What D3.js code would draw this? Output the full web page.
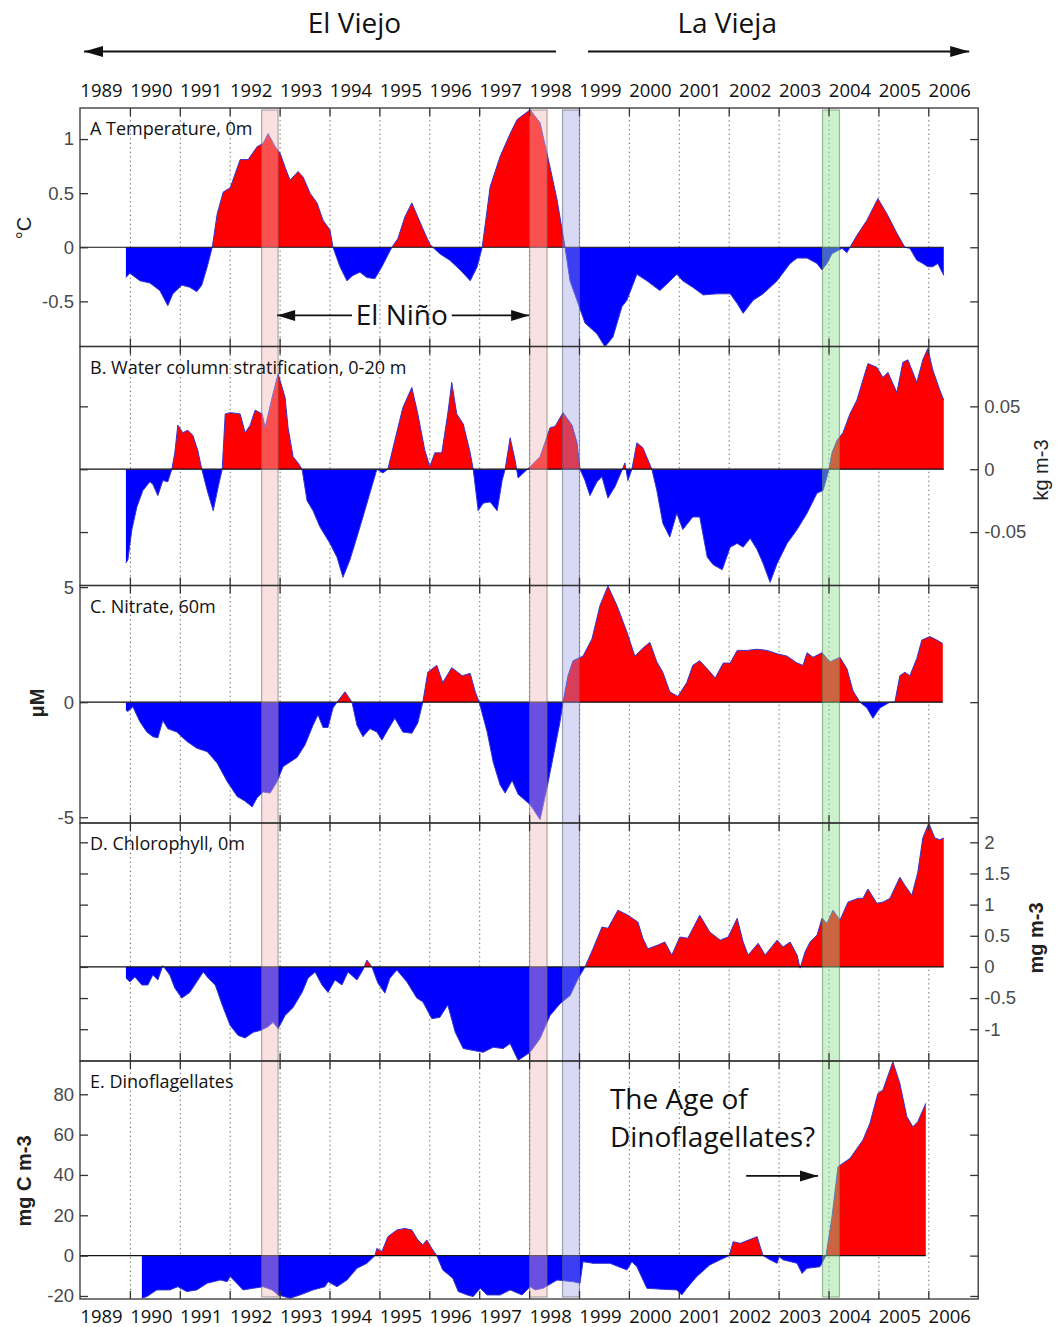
<!DOCTYPE html>
<html><head><meta charset="utf-8">
<script src="https://cdn.jsdelivr.net/npm/d3@7"></script>
<style>
body{margin:0;background:#fff;}
svg{display:block;}
</style></head><body>
<svg id="c" width="1060" height="1327"></svg>
<script>
// ---------------- DATA ----------------
const gridYears = d3.range(1990, 2007);
const labelYears = d3.range(1989, 2007);
const panelTitles = ["A Temperature, 0m", "B. Water column stratification, 0-20 m", "C. Nitrate, 60m", "D. Chlorophyll, 0m", "E. Dinoflagellates"];
const unitLabels = ["°C", "kg m-3", "μM", "mg m-3", "mg C m-3"];
const tickA = [-0.5, 0, 0.5, 1];
const tickB = [-0.05, 0, 0.05];
const tickC = [-5, 0, 5];
const tickD = [-1, -0.5, 0, 0.5, 1, 1.5, 2];
const tickE = [-20, 0, 20, 40, 60, 80];

const tempData = [[1989.92,-0.28],[1990.00,-0.24],[1990.20,-0.31],[1990.40,-0.33],[1990.60,-0.40],[1990.76,-0.54],[1990.86,-0.43],[1991.04,-0.35],[1991.20,-0.37],[1991.34,-0.41],[1991.44,-0.35],[1991.55,-0.18],[1991.65,0],[1991.75,0.31],[1991.87,0.51],[1992.01,0.55],[1992.21,0.81],[1992.37,0.81],[1992.55,0.93],[1992.67,0.96],[1992.77,1.05],[1992.91,0.93],[1993.01,0.87],[1993.11,0.74],[1993.21,0.62],[1993.37,0.70],[1993.47,0.65],[1993.61,0.50],[1993.75,0.41],[1993.87,0.25],[1994.01,0.16],[1994.07,0],[1994.21,-0.18],[1994.35,-0.31],[1994.47,-0.26],[1994.61,-0.23],[1994.75,-0.28],[1994.91,-0.29],[1995.05,-0.18],[1995.15,-0.09],[1995.25,0],[1995.37,0.08],[1995.51,0.28],[1995.65,0.41],[1995.77,0.28],[1995.91,0.13],[1996.01,0.03],[1996.07,0],[1996.21,-0.06],[1996.41,-0.12],[1996.62,-0.21],[1996.82,-0.31],[1996.96,-0.18],[1997.06,0],[1997.22,0.56],[1997.42,0.84],[1997.62,1.05],[1997.76,1.18],[1998.02,1.27],[1998.22,1.15],[1998.42,0.74],[1998.56,0.44],[1998.72,0],[1998.82,-0.31],[1998.96,-0.49],[1999.12,-0.70],[1999.36,-0.80],[1999.52,-0.92],[1999.68,-0.83],[1999.86,-0.55],[1999.96,-0.49],[2000.16,-0.25],[2000.36,-0.31],[2000.62,-0.40],[2000.76,-0.34],[2000.96,-0.25],[2001.08,-0.31],[2001.28,-0.37],[2001.49,-0.44],[2001.77,-0.43],[2002.03,-0.43],[2002.17,-0.52],[2002.29,-0.61],[2002.49,-0.49],[2002.69,-0.43],[2002.97,-0.31],[2003.23,-0.15],[2003.37,-0.10],[2003.57,-0.10],[2003.77,-0.15],[2003.87,-0.21],[2003.97,-0.15],[2004.07,-0.06],[2004.27,-0.01],[2004.37,-0.05],[2004.43,0],[2004.57,0.11],[2004.77,0.25],[2004.99,0.45],[2005.17,0.31],[2005.37,0.13],[2005.53,0],[2005.63,-0.01],[2005.77,-0.12],[2005.89,-0.15],[2005.99,-0.18],[2006.09,-0.18],[2006.19,-0.15],[2006.31,-0.26]];

const stratData = [[1989.92,-0.0746],[1989.96,-0.072],[1990.04,-0.048],[1990.14,-0.030],[1990.26,-0.017],[1990.40,-0.010],[1990.46,-0.012],[1990.56,-0.021],[1990.66,-0.009],[1990.76,-0.010],[1990.84,0],[1990.90,0.013],[1990.96,0.035],[1991.06,0.029],[1991.16,0.031],[1991.26,0.027],[1991.36,0.015],[1991.44,0],[1991.55,-0.017],[1991.67,-0.033],[1991.77,-0.014],[1991.85,0],[1991.91,0.044],[1992.01,0.045],[1992.21,0.044],[1992.31,0.029],[1992.41,0.035],[1992.51,0.047],[1992.65,0.044],[1992.71,0.033],[1992.85,0.057],[1992.97,0.076],[1993.11,0.057],[1993.17,0.033],[1993.27,0.010],[1993.37,0.005],[1993.45,0],[1993.55,-0.025],[1993.67,-0.033],[1993.81,-0.046],[1994.01,-0.059],[1994.15,-0.070],[1994.27,-0.086],[1994.41,-0.072],[1994.55,-0.054],[1994.67,-0.038],[1994.81,-0.019],[1994.95,0],[1995.07,-0.003],[1995.17,0],[1995.31,0.023],[1995.47,0.049],[1995.65,0.065],[1995.77,0.044],[1995.91,0.015],[1996.01,0.002],[1996.11,0.013],[1996.25,0.013],[1996.37,0.044],[1996.45,0.069],[1996.55,0.044],[1996.68,0.036],[1996.82,0.013],[1996.88,0],[1996.98,-0.033],[1997.08,-0.027],[1997.22,-0.026],[1997.36,-0.033],[1997.46,-0.009],[1997.52,0],[1997.62,0.025],[1997.72,0.007],[1997.78,-0.007],[1998.02,0.002],[1998.22,0.010],[1998.42,0.033],[1998.52,0.034],[1998.68,0.045],[1998.86,0.035],[1998.96,0.021],[1999.02,0],[1999.12,-0.009],[1999.22,-0.021],[1999.36,-0.010],[1999.46,-0.006],[1999.58,-0.023],[1999.72,-0.014],[1999.86,-0.001],[1999.92,0.005],[1999.98,-0.009],[2000.06,0],[2000.16,0.021],[2000.28,0.017],[2000.46,0],[2000.56,-0.017],[2000.68,-0.043],[2000.82,-0.054],[2000.96,-0.035],[2001.08,-0.048],[2001.28,-0.038],[2001.42,-0.038],[2001.57,-0.070],[2001.69,-0.076],[2001.87,-0.080],[2002.03,-0.062],[2002.17,-0.059],[2002.29,-0.062],[2002.43,-0.055],[2002.57,-0.064],[2002.69,-0.075],[2002.83,-0.090],[2002.97,-0.075],[2003.17,-0.059],[2003.37,-0.048],[2003.57,-0.035],[2003.77,-0.019],[2003.89,-0.017],[2003.97,-0.006],[2004.01,0],[2004.07,0.013],[2004.17,0.023],[2004.29,0.029],[2004.43,0.044],[2004.57,0.055],[2004.69,0.071],[2004.79,0.084],[2004.97,0.081],[2005.09,0.073],[2005.19,0.077],[2005.37,0.061],[2005.49,0.085],[2005.59,0.087],[2005.77,0.069],[2005.89,0.087],[2005.99,0.096],[2006.09,0.079],[2006.23,0.063],[2006.31,0.055]];

const nitrateData = [[1989.92,-0.35],[1989.96,-0.4],[1990.06,-0.2],[1990.20,-0.85],[1990.34,-1.3],[1990.46,-1.5],[1990.56,-1.55],[1990.66,-0.8],[1990.76,-1.15],[1990.94,-1.3],[1991.14,-1.7],[1991.34,-2.0],[1991.55,-2.15],[1991.75,-2.65],[1991.95,-3.45],[1992.15,-4.1],[1992.31,-4.3],[1992.45,-4.55],[1992.55,-4.15],[1992.67,-3.9],[1992.81,-3.95],[1992.95,-3.45],[1993.07,-2.8],[1993.21,-2.6],[1993.35,-2.4],[1993.51,-1.85],[1993.67,-1.0],[1993.77,-0.55],[1993.87,-1.1],[1993.97,-1.1],[1994.07,-0.25],[1994.15,0],[1994.31,0.45],[1994.45,0],[1994.55,-1.0],[1994.67,-1.5],[1994.81,-1.15],[1994.95,-1.3],[1995.05,-1.65],[1995.17,-1.2],[1995.31,-0.7],[1995.47,-1.3],[1995.65,-1.35],[1995.77,-0.9],[1995.87,0],[1995.97,1.3],[1996.15,1.6],[1996.27,0.85],[1996.45,1.5],[1996.66,1.15],[1996.82,1.25],[1996.92,0.45],[1997.00,0],[1997.16,-1.3],[1997.28,-2.6],[1997.42,-3.6],[1997.52,-3.95],[1997.66,-3.4],[1997.78,-4.0],[1998.02,-4.45],[1998.22,-5.1],[1998.36,-3.7],[1998.48,-2.4],[1998.62,-0.85],[1998.68,0],[1998.78,1.15],[1998.88,1.8],[1999.08,2.0],[1999.26,2.75],[1999.42,4.2],[1999.58,5.05],[1999.76,4.2],[1999.96,3.05],[2000.12,2.0],[2000.28,2.35],[2000.42,2.6],[2000.56,1.75],[2000.68,1.3],[2000.82,0.45],[2000.98,0.25],[2001.16,0.85],[2001.28,1.6],[2001.42,1.8],[2001.57,1.45],[2001.73,1.05],[2001.89,1.7],[2002.03,1.7],[2002.17,2.25],[2002.37,2.25],[2002.57,2.3],[2002.77,2.25],[2002.97,2.1],[2003.17,2.0],[2003.37,1.7],[2003.49,1.6],[2003.57,2.15],[2003.69,1.95],[2003.87,2.15],[2004.03,1.75],[2004.23,1.95],[2004.37,1.45],[2004.49,0.5],[2004.63,0],[2004.77,-0.25],[2004.89,-0.7],[2005.03,-0.25],[2005.23,0],[2005.33,0],[2005.43,1.15],[2005.53,1.3],[2005.63,1.15],[2005.77,1.9],[2005.87,2.7],[2006.03,2.85],[2006.17,2.7],[2006.29,2.55]];

const chlData = [[1989.92,-0.18],[1990.00,-0.24],[1990.10,-0.16],[1990.24,-0.29],[1990.36,-0.29],[1990.46,-0.13],[1990.56,-0.21],[1990.66,0.02],[1990.80,-0.13],[1990.90,-0.34],[1991.04,-0.5],[1991.20,-0.41],[1991.34,-0.24],[1991.47,-0.08],[1991.57,-0.18],[1991.71,-0.29],[1991.85,-0.61],[1992.01,-0.94],[1992.17,-1.1],[1992.31,-1.14],[1992.47,-1.05],[1992.61,-1.02],[1992.75,-0.97],[1992.87,-0.89],[1992.97,-0.99],[1993.11,-0.78],[1993.27,-0.65],[1993.45,-0.41],[1993.57,-0.18],[1993.71,-0.08],[1993.85,-0.29],[1993.97,-0.41],[1994.11,-0.21],[1994.25,-0.29],[1994.37,-0.08],[1994.55,-0.21],[1994.67,-0.05],[1994.75,0.11],[1994.85,0],[1994.97,-0.26],[1995.11,-0.42],[1995.21,-0.18],[1995.35,-0.05],[1995.55,-0.24],[1995.75,-0.5],[1995.87,-0.56],[1996.05,-0.83],[1996.21,-0.81],[1996.37,-0.61],[1996.52,-1.05],[1996.68,-1.31],[1996.88,-1.34],[1997.08,-1.37],[1997.28,-1.29],[1997.48,-1.31],[1997.62,-1.23],[1997.78,-1.5],[1998.02,-1.37],[1998.22,-1.15],[1998.42,-0.78],[1998.62,-0.59],[1998.82,-0.46],[1998.98,-0.19],[1999.12,0],[1999.28,0.29],[1999.46,0.64],[1999.58,0.62],[1999.78,0.91],[1999.98,0.83],[2000.18,0.72],[2000.28,0.46],[2000.38,0.29],[2000.58,0.35],[2000.72,0.40],[2000.86,0.19],[2001.02,0.48],[2001.18,0.46],[2001.42,0.83],[2001.62,0.56],[2001.83,0.43],[2001.99,0.48],[2002.17,0.78],[2002.29,0.40],[2002.39,0.19],[2002.59,0.38],[2002.73,0.19],[2002.97,0.43],[2003.09,0.32],[2003.23,0.40],[2003.37,0.19],[2003.43,-0.02],[2003.53,0.24],[2003.63,0.40],[2003.77,0.51],[2003.87,0.78],[2003.97,0.70],[2004.09,0.91],[2004.23,0.75],[2004.39,1.04],[2004.59,1.10],[2004.69,1.10],[2004.79,1.25],[2004.97,1.02],[2005.09,1.04],[2005.23,1.10],[2005.43,1.44],[2005.53,1.31],[2005.67,1.15],[2005.79,1.52],[2005.89,2.07],[2006.01,2.31],[2006.13,2.07],[2006.23,2.04],[2006.31,2.07]];

const dinoData = [[1990.24,-21.1],[1990.34,-20.3],[1990.54,-17.0],[1990.80,-17.0],[1990.96,-15.4],[1991.14,-17.8],[1991.34,-17.0],[1991.55,-13.7],[1991.81,-12.1],[1991.95,-12.9],[1992.01,-10.4],[1992.11,-12.9],[1992.27,-17.0],[1992.47,-16.2],[1992.67,-15.4],[1992.85,-17.0],[1992.97,-19.5],[1993.21,-21.1],[1993.41,-19.5],[1993.67,-17.0],[1993.91,-15.4],[1993.97,-12.9],[1994.15,-15.4],[1994.35,-12.1],[1994.55,-6.3],[1994.75,-3.8],[1994.91,0],[1994.95,3.6],[1995.05,2.0],[1995.17,9.4],[1995.35,12.7],[1995.51,13.5],[1995.65,12.7],[1995.77,7.8],[1995.87,5.3],[1995.95,7.8],[1996.05,3.6],[1996.15,0],[1996.27,-7.1],[1996.47,-11.2],[1996.58,-17.8],[1996.76,-19.5],[1996.88,-20.3],[1997.02,-16.2],[1997.16,-19.5],[1997.42,-19.5],[1997.62,-17.0],[1997.86,-19.5],[1998.02,-15.4],[1998.12,-17.0],[1998.28,-16.2],[1998.56,-12.1],[1998.88,-12.9],[1999.02,-13.7],[1999.08,-3.0],[1999.28,-3.8],[1999.62,-3.8],[1999.96,-7.1],[2000.06,-3.0],[2000.16,-5.5],[2000.36,-16.2],[2000.68,-16.7],[2000.96,-17.0],[2001.06,-19.5],[2001.16,-16.2],[2001.36,-10.4],[2001.62,-4.6],[2001.83,-2.1],[2002.01,0],[2002.09,6.9],[2002.23,6.1],[2002.57,9.4],[2002.63,4.5],[2002.69,0],[2002.83,-2.1],[2002.97,-3.8],[2003.01,-0.5],[2003.09,-2.1],[2003.37,-3.8],[2003.47,-8.8],[2003.57,-6.3],[2003.83,-5.5],[2003.95,0],[2004.07,19.3],[2004.19,44.1],[2004.43,48.2],[2004.69,57.3],[2004.83,65.6],[2004.99,80.4],[2005.09,82.1],[2005.29,96.1],[2005.43,85.4],[2005.57,68.9],[2005.69,63.9],[2005.79,66.4],[2005.95,75.5]];

// y ranges shown in each panel [min, max]
const domainA = [-0.917, 1.287];
const domainB = [-0.0925, 0.0976];
const domainC = [-5.25, 5.07];
const domainD = [-1.51, 2.31];
const domainE = [-21.5, 96.5];

// highlighted periods (years)
const bandStarts = [1992.64, 1998.01, 1998.67, 2003.88];
const bandEnds   = [1992.97, 1998.36, 1999.01, 2004.22];

// ---------------- LAYOUT / STYLE ----------------
const seriesList = [tempData, stratData, nitrateData, chlData, dinoData];
const domains = [domainA, domainB, domainC, domainD, domainE];
const tickSets = [tickA, tickB, tickC, tickD, tickE];
const labelSide = ["left", "right", "left", "right", "left"];
const panelEdges = [108, 346.5, 585.5, 823, 1061, 1299];
const bandFills = ["rgba(244,186,186,0.43)", "rgba(244,186,186,0.43)", "rgba(154,160,230,0.39)", "rgba(144,222,144,0.45)"];
const bandStrokes = ["rgba(120,100,100,0.55)", "rgba(120,100,100,0.55)", "rgba(90,90,120,0.55)", "rgba(90,130,90,0.55)"];
const unitPos = [[24,228],[1041,470],[37,703],[1036,938],[24,1181]];
const unitWeight = ["normal","normal","bold","bold","bold"];

const TXT = "'Open Sans', 'Noto Sans', sans-serif";
const NUM = "'Liberation Sans', Arial, sans-serif";
const RED = "#ff0000", BLUE = "#0000ff";

const svg = d3.select("#c");
const defs = svg.append("defs");
const x = d3.scaleLinear().domain([1989, 2007]).range([80, 978.2]);
const X0 = x(1989), X1 = x(2007);

const gridLayer = svg.append("g");
const dataLayer = svg.append("g");
const bandLayer = svg.append("g");
const frameLayer = svg.append("g");
const textLayer = svg.append("g");

const yScales = [];
seriesList.forEach((data, i) => {
  const top = panelEdges[i], bot = panelEdges[i + 1];
  const y = d3.scaleLinear().domain(domains[i]).range([bot, top]);
  yScales.push(y);
  const yz = y(0);

  // dotted year gridlines
  gridLayer.append("g").attr("transform", `translate(0,${bot})`)
    .call(d3.axisBottom(x).tickValues(gridYears).tickSize(-(bot - top)).tickFormat(""))
    .call(a => { a.select(".domain").remove();
      a.selectAll("line").attr("stroke", "#666").attr("stroke-width", 1).attr("stroke-dasharray", "1.3,3.2"); });

  defs.append("clipPath").attr("id", "pos" + i).append("rect")
    .attr("x", X0).attr("y", top).attr("width", X1 - X0).attr("height", yz - top);
  defs.append("clipPath").attr("id", "neg" + i).append("rect")
    .attr("x", X0).attr("y", yz).attr("width", X1 - X0).attr("height", bot - yz);

  const area = d3.area().x(d => x(d[0])).y0(yz).y1(d => y(d[1]));
  dataLayer.append("path").datum(data).attr("d", area).attr("fill", RED).attr("clip-path", `url(#pos${i})`);
  dataLayer.append("path").datum(data).attr("d", area).attr("fill", BLUE).attr("clip-path", `url(#neg${i})`);
  dataLayer.append("path").datum(data)
    .attr("d", d3.line().x(d => x(d[0])).y(d => y(d[1])))
    .attr("fill", "none").attr("stroke", "#3535d0").attr("stroke-width", 1);
  // baseline from left frame to end of data
  dataLayer.append("line").attr("x1", X0).attr("x2", x(data[data.length - 1][0]))
    .attr("y1", yz).attr("y2", yz).attr("stroke", "#111").attr("stroke-width", 1.2);

  // frame
  frameLayer.append("rect").attr("x", X0).attr("y", top).attr("width", X1 - X0).attr("height", bot - top)
    .attr("fill", "none").attr("stroke", "#333").attr("stroke-width", 1.3);

  const fmt = d => String(d);
  const styleAxis = a => { a.select(".domain").remove();
    a.selectAll("line").attr("stroke", "#333").attr("stroke-width", 1.3);
    a.selectAll("text").attr("font-family", NUM).attr("font-size", 18.5).attr("fill", "#4a4a4a"); };
  frameLayer.append("g").attr("transform", `translate(${X0},0)`)
    .call(d3.axisLeft(y).tickValues(tickSets[i]).tickSize(-8).tickPadding(6).tickFormat(labelSide[i] === "left" ? fmt : ""))
    .call(styleAxis);
  frameLayer.append("g").attr("transform", `translate(${X1},0)`)
    .call(d3.axisRight(y).tickValues(tickSets[i]).tickSize(-8).tickPadding(6).tickFormat(labelSide[i] === "right" ? fmt : ""))
    .call(styleAxis);
  frameLayer.append("g").attr("transform", `translate(0,${top})`)
    .call(d3.axisTop(x).tickValues(gridYears).tickSize(-8).tickFormat("")).call(styleAxis);
  frameLayer.append("g").attr("transform", `translate(0,${bot})`)
    .call(d3.axisBottom(x).tickValues(gridYears).tickSize(-8).tickFormat("")).call(styleAxis);

  // panel title
  textLayer.append("text").attr("x", 90).attr("y", top + 27).text(panelTitles[i])
    .attr("font-family", TXT).attr("font-size", 18).attr("fill", "#111");
  // unit label
  textLayer.append("text").attr("transform", `translate(${unitPos[i][0]},${unitPos[i][1]}) rotate(-90)`)
    .attr("text-anchor", "middle").attr("dominant-baseline", "central")
    .attr("font-family", NUM).attr("font-size", 20).attr("font-weight", unitWeight[i]).attr("fill", "#222")
    .text(unitLabels[i]);
});

// highlighted bands across all panels
bandStarts.forEach((s, k) => {
  bandLayer.append("rect").attr("x", x(s)).attr("y", panelEdges[0] + 2)
    .attr("width", x(bandEnds[k]) - x(s)).attr("height", panelEdges[5] - panelEdges[0] - 4)
    .attr("fill", bandFills[k]).attr("stroke", bandStrokes[k]).attr("stroke-width", 1.2);
});

// year labels top and bottom
const yearAxisStyle = a => { a.select(".domain").remove(); a.selectAll("line").remove();
  a.selectAll("text").attr("font-family", TXT).attr("font-size", 18.5).attr("fill", "#111"); };
textLayer.append("g").attr("transform", "translate(0,97)")
  .call(d3.axisTop(x).tickValues(labelYears.map(v => v + 0.42)).tickSize(0).tickPadding(0).tickFormat(d => String(Math.floor(d))))
  .call(yearAxisStyle);
textLayer.append("g").attr("transform", "translate(0,1310)")
  .call(d3.axisBottom(x).tickValues(labelYears.map(v => v + 0.42)).tickSize(0).tickPadding(0).tickFormat(d => String(Math.floor(d))))
  .call(yearAxisStyle);

// arrows helper
function arrow(g, x1, x2, yy, headAtStart, headAtEnd, len, half, w) {
  g.append("line").attr("x1", x1).attr("x2", x2).attr("y1", yy).attr("y2", yy)
    .attr("stroke", "#111").attr("stroke-width", w);
  const head = (tip, dir) => g.append("path")
    .attr("d", `M${tip},${yy} L${tip - dir * len},${yy - half} L${tip - dir * len},${yy + half} Z`).attr("fill", "#111");
  if (headAtStart) head(x1, -1);
  if (headAtEnd) head(x2, 1);
}

// header
textLayer.append("text").attr("x", x(1994.5)).attr("y", 33).attr("text-anchor", "middle")
  .attr("font-family", TXT).attr("font-size", 28).attr("fill", "#111").text("El Viejo");
textLayer.append("text").attr("x", x(2001.97)).attr("y", 33).attr("text-anchor", "middle")
  .attr("font-family", TXT).attr("font-size", 28).attr("fill", "#111").text("La Vieja");
arrow(textLayer, x(1989.08), x(1998.54), 51.5, true, false, 19, 5.5, 2);
arrow(textLayer, x(1999.18), x(2006.82), 51.5, false, true, 19, 5.5, 2);

// El Niño annotation (panel A)
const yA = yScales[0];
textLayer.append("text").attr("x", x(1995.45)).attr("y", yA(-0.62)).attr("text-anchor", "middle")
  .attr("dominant-baseline", "central").attr("font-family", TXT).attr("font-size", 28).attr("fill", "#111").text("El Niño");
arrow(textLayer, x(1992.95), x(1994.45), yA(-0.63), true, false, 18, 5.5, 1.8);
arrow(textLayer, x(1996.45), x(1998.0), yA(-0.63), false, true, 18, 5.5, 1.8);

// Age of dinoflagellates annotation (panel E)
const yE = yScales[4];
textLayer.append("text").attr("x", x(1999.62)).attr("y", yE(72.7))
  .attr("font-family", TXT).attr("font-size", 28).attr("fill", "#111").text("The Age of");
textLayer.append("text").attr("x", x(1999.62)).attr("y", yE(53.8))
  .attr("font-family", TXT).attr("font-size", 28).attr("fill", "#111").text("Dinoflagellates?");
arrow(textLayer, x(2002.35), x(2003.79), yE(39.5), false, true, 18, 5.5, 1.8);
</script>
</body></html>
